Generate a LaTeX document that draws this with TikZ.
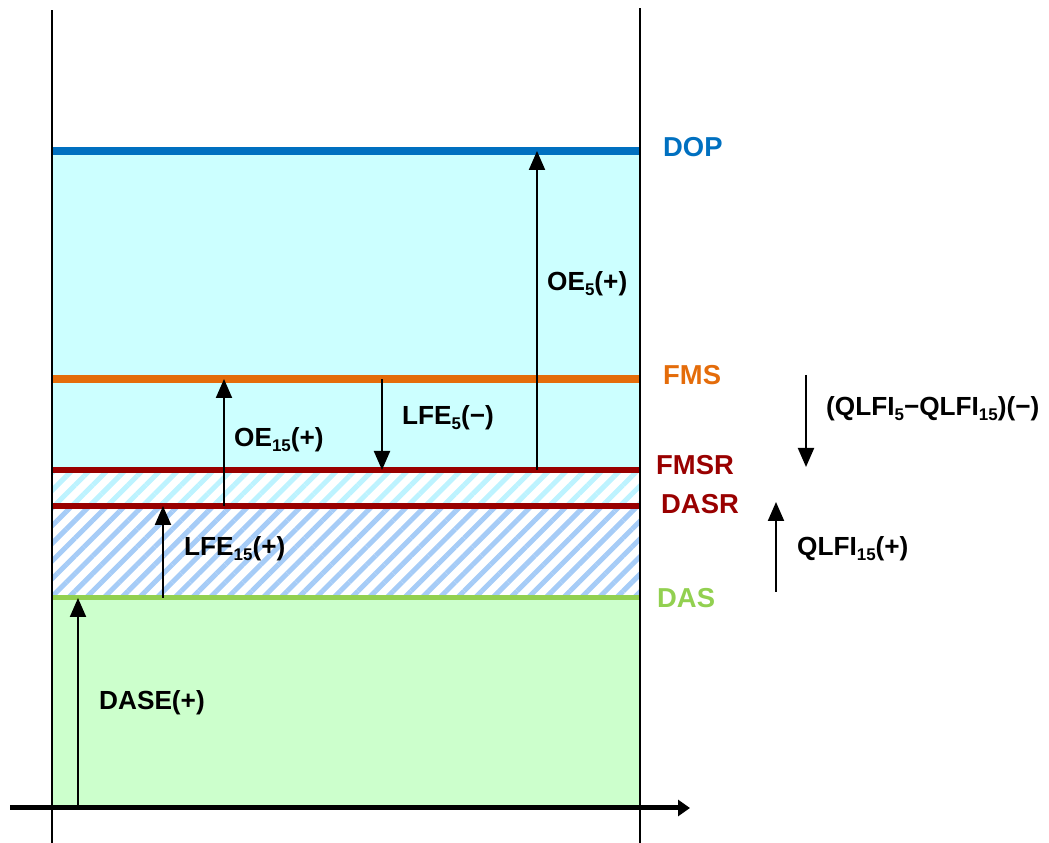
\documentclass[tikz,border=0pt]{standalone}
\usepackage{fontspec}
\setmainfont{Liberation Sans}
\usetikzlibrary{arrows.meta,patterns.meta}
\definecolor{dopcol}{HTML}{0070C0}
\definecolor{fmscol}{HTML}{E46C0A}
\definecolor{redcol}{HTML}{990000}
\definecolor{dascol}{HTML}{92D050}
\definecolor{cyanfill}{HTML}{CCFFFF}
\definecolor{greenfill}{HTML}{CCFFCC}
\definecolor{hatchlight}{HTML}{BDF3FF}
\definecolor{hatchblue}{HTML}{A6CCF7}
\newcommand{\lowsub}[1]{\raisebox{-0.35ex}{\fontsize{17}{17}\selectfont #1}}
\begin{document}
\begin{tikzpicture}[>={Triangle[width=16bp,length=19bp]},line join=bevel,
  flow/.style={->,line width=2bp},
  levellab/.style={anchor=west,inner sep=0bp,font=\fontsize{27.5}{30}\selectfont\bfseries},
  arrowlab/.style={anchor=west,inner sep=0bp,font=\fontsize{26.3}{30}\selectfont\bfseries}]
  \useasboundingbox (0bp,0bp) rectangle (1049bp,843bp);
%%
  % Levels
  \coordinate (base) at (52bp,35bp);
  \coordinate (DAS) at (52bp,245bp);
  \coordinate (DASR) at (52bp,337bp);
  \coordinate (FMSR) at (52bp,373bp);
  \coordinate (FMS) at (52bp,464bp);
  \coordinate (DOP) at (52bp,692bp);
  % Zones
  \fill[greenfill] (base) rectangle (640bp,245bp);
  \fill[pattern={Lines[angle=45,distance=12.5bp,line width=5bp]},pattern color=hatchblue] (DAS) rectangle (640bp,337bp);
  \fill[pattern={Lines[angle=45,distance=12.5bp,line width=5bp]},pattern color=hatchlight] (DASR) rectangle (640bp,373bp);
  \fill[cyanfill] (FMSR) rectangle (640bp,692bp);
  % Lines
  \draw[dopcol,line width=7.5bp] (DOP) -- (640bp,0 |- DOP);
  \draw[fmscol,line width=7.5bp] (FMS) -- (640bp,0 |- FMS);
  \draw[redcol,line width=5.5bp] (FMSR) -- (640bp,0 |- FMSR);
  \draw[redcol,line width=5.5bp] (DASR) -- (640bp,0 |- DASR);
  \draw[dascol,line width=5bp] (DAS) -- (640bp,0 |- DAS);
  % Walls
  \draw[line width=1.5bp] (52bp,0bp) -- (52bp,833bp);
  \draw[line width=1.5bp] (640bp,0bp) -- (640bp,835bp);
  % Axis
  \coordinate (axisL) at (10bp,35bp);
  \coordinate (axisR) at (690bp,35bp);
  \draw[line width=5bp,-{Triangle[width=16bp,length=12bp]}] (axisL) -- (axisR);
  % Edge: base -> DAS
  \draw[flow] (78bp,0 |- base) -- (78bp,0 |- DAS);
  % Edge: DAS -> DASR
  \draw[flow] (163bp,0 |- DAS) -- (163bp,0 |- DASR);
  % Edge: DASR -> FMS
  \draw[flow] (224bp,0 |- DASR) -- (224bp,0 |- FMS);
  % Edge: FMS -> FMSR
  \draw[flow] (382bp,0 |- FMS) -- (382bp,0 |- FMSR);
  % Edge: FMSR -> DOP
  \draw[flow] (537bp,0 |- FMSR) -- (537bp,0 |- DOP);
  % Edge: right side
  \coordinate (qtop) at (806bp,468bp);
  \coordinate (qbot) at (806bp,376bp);
  \coordinate (rbot) at (776bp,251bp);
  \coordinate (rtop) at (776bp,341bp);
  \draw[flow] (qtop) -- (qbot);
  \draw[flow] (rbot) -- (rtop);
  % Node: level labels
  \node[levellab,text=dopcol] (lDOP) at (663bp,696bp) {DOP};
  \node[levellab,text=fmscol] (lFMS) at (663bp,468bp) {FMS};
  \node[levellab,text=redcol] (lFMSR) at (656bp,378bp) {FMSR};
  \node[levellab,text=redcol] (lDASR) at (661bp,339bp) {DASR};
  \node[levellab,text=dascol] (lDAS) at (657bp,245bp) {DAS};
  % Node: arrow labels
  \node[arrowlab] (lDASE) at (99bp,140bp) {DASE(+)};
  \node[arrowlab] (lLFE15) at (184bp,294bp) {LFE\lowsub{15}(+)};
  \node[arrowlab] (lOE15) at (234bp,403bp) {OE\lowsub{15}(+)};
  \node[arrowlab] (lLFE5) at (402bp,425bp) {LFE\lowsub{5}(−)};
  \node[arrowlab] (lOE5) at (547bp,559bp) {OE\lowsub{5}(+)};
  \node[arrowlab] (lQdiff) at (826bp,434bp) {(QLFI\lowsub{5}−QLFI\lowsub{15})(−)};
  \node[arrowlab] (lQ15) at (797bp,294bp) {QLFI\lowsub{15}(+)};
%
\end{tikzpicture}
\end{document}
